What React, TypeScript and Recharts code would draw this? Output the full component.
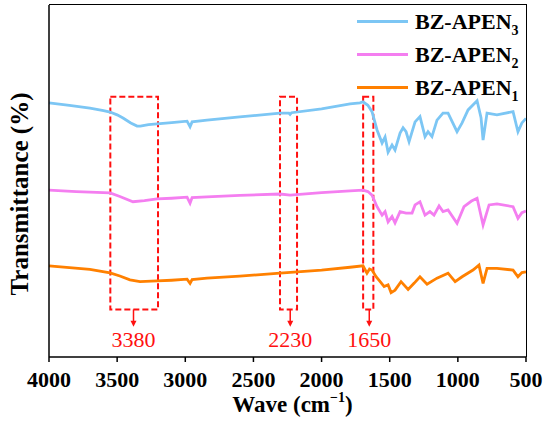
import React from 'react';
import { LineChart, Line, XAxis, YAxis, ReferenceArea, ReferenceLine, ReferenceDot, Legend, Label } from 'recharts';

document.body.style.margin = '0';

const FONT = "'Liberation Serif', Tinos, serif";
const RED = '#ff1010';

const CHART_W = 550;
const CHART_H = 422;
const MARGIN = { top: 5, right: 24, bottom: 5, left: 0 };
const X_AXIS_H = 60;
const Y_AXIS_W = 49;

const waveTicks = [4000, 3500, 3000, 2500, 2000, 1500, 1000, 500];

// [wavenumber (cm-1), transmittance (offset, a.u.)]
const apen3 = [
  [4000, 72.2], [3850, 71.5], [3700, 70.7], [3600, 70.0], [3552, 69.6], [3500, 68.8], [3457, 67.9],
  [3400, 66.5], [3354, 65.6], [3330, 65.6], [3270, 66.0], [3207, 66.2], [3100, 66.6], [2987, 67.0],
  [2965, 65.4], [2950, 66.8], [2841, 67.3], [2600, 68.2], [2305, 69.3], [2240, 69.3], [2231, 68.9],
  [2220, 69.4], [2000, 70.5], [1791, 71.9], [1718, 72.2], [1696, 72.5], [1660, 71.5], [1630, 69.7],
  [1593, 64.5], [1556, 60.8], [1534, 62.5], [1512, 58.2], [1483, 60.2], [1461, 58.8], [1424, 63.6],
  [1402, 65.1], [1380, 64.0], [1358, 61.2], [1314, 66.8], [1278, 68.3], [1241, 62.6], [1219, 64.0],
  [1190, 62.6], [1153, 67.3], [1109, 69.3], [1072, 69.3], [1006, 64.0], [969, 66.5], [925, 70.2],
  [859, 72.8], [830, 68.0], [815, 61.6], [786, 69.3], [713, 68.8], [595, 69.7], [559, 64.0],
  [530, 66.5], [500, 67.8],
];

const apen2 = [
  [4000, 47.4], [3800, 47.0], [3552, 46.6], [3480, 45.6], [3384, 44.1], [3300, 44.4], [3207, 44.9],
  [3100, 45.1], [2987, 45.4], [2965, 43.7], [2950, 45.3], [2841, 45.5], [2600, 45.9], [2305, 46.3],
  [2231, 46.0], [2000, 46.7], [1791, 47.2], [1696, 47.4], [1660, 47.0], [1630, 46.0], [1593, 42.7],
  [1556, 40.3], [1534, 41.3], [1512, 38.4], [1483, 39.9], [1461, 38.1], [1424, 41.3], [1380, 40.9],
  [1336, 40.9], [1314, 43.2], [1278, 44.1], [1241, 40.3], [1205, 41.3], [1175, 40.3], [1138, 42.9],
  [1109, 41.3], [1072, 41.8], [1006, 38.0], [955, 42.7], [900, 44.3], [859, 45.1], [815, 37.5],
  [771, 43.2], [713, 43.5], [595, 42.7], [559, 39.4], [530, 41.0], [500, 41.5],
];

const apen1 = [
  [4000, 25.9], [3700, 24.9], [3552, 23.9], [3480, 23.0], [3406, 21.9], [3332, 21.4], [3207, 21.6],
  [3100, 21.8], [2987, 22.1], [2965, 20.9], [2950, 22.0], [2841, 22.4], [2600, 23.0], [2305, 23.8],
  [2000, 24.7], [1791, 25.5], [1696, 25.9], [1667, 23.8], [1648, 25.0], [1630, 24.7], [1600, 22.8],
  [1570, 21.4], [1541, 20.0], [1512, 20.5], [1490, 18.3], [1461, 19.0], [1417, 21.4], [1365, 19.2],
  [1320, 21.0], [1278, 22.8], [1226, 20.7], [1153, 22.4], [1072, 23.8], [1020, 21.4], [969, 22.8],
  [889, 24.7], [845, 26.1], [815, 20.9], [786, 25.2], [713, 25.2], [595, 24.7], [559, 22.8],
  [530, 24.0], [500, 24.2],
];

const seriesNames = ['BZ-APEN3', 'BZ-APEN2', 'BZ-APEN1'];
const seriesColors = ['#7cc6f4', '#f47ef0', '#ff8000'];
const seriesData = [apen3, apen2, apen1];

// marked bands
const peakLabels = [3380, 2230, 1650];
const boxRanges = [[3550, 3200], [2305, 2180], [1695, 1620]];
const boxTop = 73.9;
const boxBottom = 13.5;
const arrowTip = 8.6;

const toPoints = (arr: number[][]) => arr.map(([wave, t]) => ({ wave, t }));

const renderLegend = (props: any) => {
  const items = [...(props.payload || [])].sort(
    (a: any, b: any) => seriesNames.indexOf(a.value) - seriesNames.indexOf(b.value)
  );
  return (
    <div>
      {items.map((item: any) => (
        <div key={item.value} style={{ height: 33, display: 'flex', alignItems: 'center' }}>
          <span style={{ display: 'inline-block', width: 51, height: 3, background: item.color, marginRight: 7 }} />
          <span style={{ fontFamily: FONT, fontWeight: 'bold', fontSize: 22, color: '#000', lineHeight: 1 }}>
            {item.value.slice(0, -1)}
            <span style={{ fontSize: 14, position: 'relative', top: 6 }}>{item.value.slice(-1)}</span>
          </span>
        </div>
      ))}
    </div>
  );
};

const arrowHead = (label: number) => (props: any) => {
  const { cx, cy } = props;
  return (
    <g>
      <path d={`M${cx - 3},${cy - 6} L${cx + 3},${cy - 6} L${cx},${cy} Z`} fill={RED} />
      <text x={cx} y={cy + 20} textAnchor="middle" fontFamily={FONT} fontSize={22} fill={RED}>
        {label}
      </text>
    </g>
  );
};

const xTitle = (props: any) => {
  const { x, y, width } = props.viewBox;
  return (
    <text x={x + width / 2 + 5} y={y + 55} textAnchor="middle" fontFamily={FONT} fontWeight="bold" fontSize={23} fill="#000">
      Wave (cm
      <tspan fontSize={14} dy={-10}>−1</tspan>
      <tspan dy={10}>)</tspan>
    </text>
  );
};

const yTitle = (props: any) => {
  const { y, height } = props.viewBox;
  const cx = 19;
  const cy = y + height / 2 + 13;
  return (
    <text x={cx} y={cy} transform={`rotate(-90 ${cx} ${cy})`} textAnchor="middle" dominantBaseline="central"
      fontFamily={FONT} fontWeight="bold" fontSize={25} fill="#000">
      Transmittance (%)
    </text>
  );
};

const axisStroke = { stroke: '#000', strokeWidth: 1.5 };

// top and right edges of the plot box
const frameStyle: React.CSSProperties = {
  position: 'absolute',
  left: MARGIN.left + Y_AXIS_W,
  top: MARGIN.top - 1,
  width: CHART_W - MARGIN.left - MARGIN.right - Y_AXIS_W + 1,
  height: CHART_H - MARGIN.top - MARGIN.bottom - X_AXIS_H + 1,
  borderTop: '1.5px solid #000',
  borderRight: '1.5px solid #000',
  boxSizing: 'border-box',
  pointerEvents: 'none',
};

export default function App() {
  return (
    <div style={{ position: 'relative', width: CHART_W, height: CHART_H }}>
      <LineChart width={CHART_W} height={CHART_H} margin={MARGIN}>
        <XAxis
          dataKey="wave"
          type="number"
          domain={[500, 4000]}
          reversed
          ticks={waveTicks}
          interval={0}
          height={X_AXIS_H}
          tickSize={5}
          tickMargin={9}
          axisLine={axisStroke}
          tickLine={axisStroke}
          tick={{ fontFamily: FONT, fontWeight: 'bold', fontSize: 22, fill: '#000' }}
        >
          <Label content={xTitle} />
        </XAxis>
        <YAxis type="number" domain={[0, 100]} width={Y_AXIS_W} tick={false} tickLine={false} axisLine={axisStroke}>
          <Label content={yTitle} />
        </YAxis>

        {boxRanges.map(([x1, x2], i) => (
          <ReferenceArea key={`box${i}`} x1={x1} x2={x2} y1={boxBottom} y2={boxTop}
            stroke={RED} strokeWidth={2} strokeDasharray="6 3" fill="none" fillOpacity={0} />
        ))}
        {peakLabels.map((p) => (
          <ReferenceLine key={`arrow${p}`} segment={[{ x: p, y: boxBottom }, { x: p, y: arrowTip + 1 }]}
            stroke={RED} strokeWidth={1.5} />
        ))}
        {peakLabels.map((p) => (
          <ReferenceDot key={`head${p}`} x={p} y={arrowTip} r={1} shape={arrowHead(p)} />
        ))}

        {seriesNames.map((name, i) => (
          <Line
            key={name}
            name={name}
            data={toPoints(seriesData[i])}
            dataKey="t"
            type="linear"
            stroke={seriesColors[i]}
            strokeWidth={2.8}
            dot={false}
            activeDot={false}
            isAnimationActive={false}
          />
        ))}

        <Legend
          layout="vertical"
          align="center"
          verticalAlign="middle"
          content={renderLegend}
          wrapperStyle={{ left: 357, top: 5, width: 190 }}
        />
      </LineChart>
      <div style={frameStyle} />
    </div>
  );
}
